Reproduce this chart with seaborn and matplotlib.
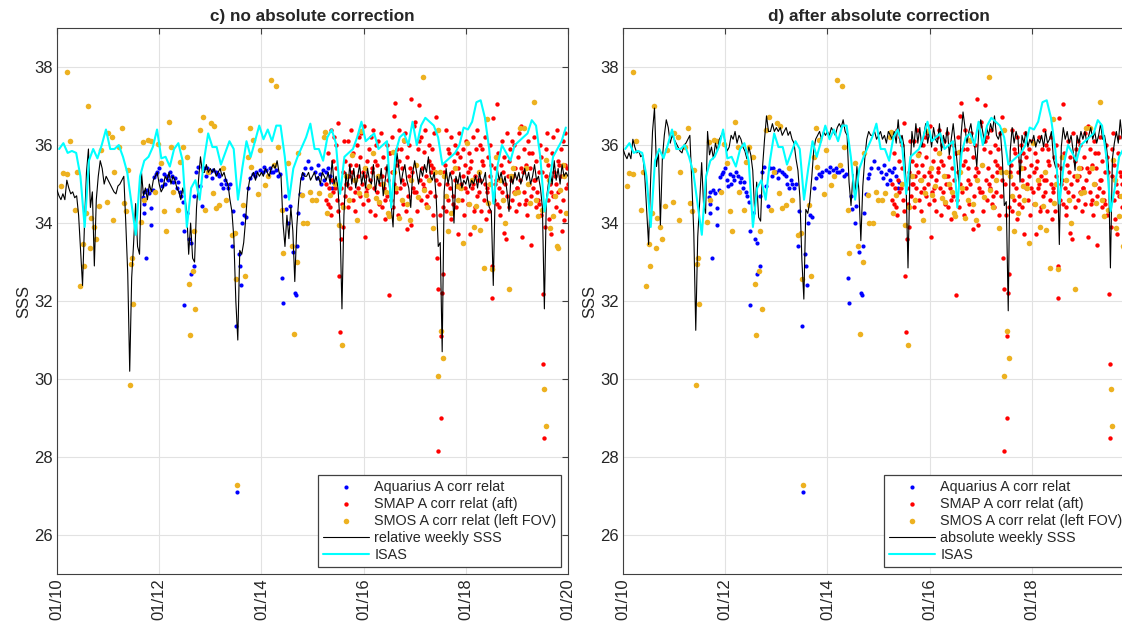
import numpy as np
import pandas as pd
import matplotlib
matplotlib.use('Agg')
import matplotlib.pyplot as plt
import seaborn as sns

# ---- weekly SSS (every 2 weeks, 26 values per year, 2010..2019, + end value) ----
rel_weekly = [
    [34.85, 34.70, 34.60, 34.75, 34.60, 35.10, 34.90, 34.75, 34.80, 34.65, 34.70, 34.20, 33.30, 32.40, 34.00, 35.30, 35.90, 34.40, 34.80, 32.90, 34.60, 35.20, 35.60, 35.40, 35.00, 35.20],
    [35.10, 35.00, 34.90, 34.80, 34.75, 34.95, 35.00, 35.10, 35.20, 34.00, 32.70, 30.20, 32.60, 33.50, 34.50, 33.40, 33.20, 35.30, 34.70, 34.90, 34.60, 35.00, 34.80, 35.10, 35.20, 35.30],
    [35.00, 34.80, 34.90, 35.20, 35.10, 35.30, 35.00, 35.20, 35.10, 34.90, 34.80, 34.60, 34.90, 34.70, 34.30, 33.20, 34.00, 33.10, 33.00, 34.40, 35.10, 35.70, 35.30, 35.30, 35.50, 35.30],
    [35.40, 35.30, 35.40, 35.20, 35.30, 35.40, 35.20, 35.30, 35.10, 35.00, 34.60, 34.30, 33.60, 32.00, 31.00, 33.30, 33.20, 33.50, 34.10, 34.80, 35.10, 35.20, 35.30, 35.10, 35.30, 35.20],
    [35.30, 35.20, 35.40, 35.30, 35.20, 35.40, 35.50, 35.40, 35.60, 35.30, 35.20, 34.00, 33.40, 34.20, 33.60, 34.40, 33.80, 32.50, 33.90, 34.60, 35.10, 35.30, 35.20, 35.20, 35.30, 35.10],
    [35.20, 35.30, 35.10, 35.20, 35.00, 35.30, 35.20, 35.10, 35.30, 35.00, 35.60, 35.00, 35.20, 34.90, 34.00, 31.80, 34.20, 35.30, 34.90, 35.50, 35.00, 35.40, 34.90, 35.20, 35.50, 35.00],
    [35.30, 34.90, 35.40, 35.10, 35.00, 35.50, 34.80, 35.20, 35.00, 35.40, 34.70, 35.10, 35.50, 35.00, 34.50, 33.90, 35.20, 35.80, 35.40, 35.00, 35.30, 35.50, 35.10, 34.90, 34.40, 35.30],
    [35.60, 35.30, 35.00, 35.40, 35.20, 35.50, 35.30, 35.70, 35.20, 35.10, 35.30, 34.60, 33.40, 33.50, 30.70, 34.80, 35.40, 35.00, 35.30, 35.10, 34.00, 35.20, 35.00, 35.30, 34.90, 35.10],
    [35.00, 35.20, 34.90, 35.10, 35.00, 35.20, 34.90, 35.30, 35.00, 35.10, 35.30, 34.60, 34.40, 34.30, 32.40, 34.90, 35.40, 35.10, 35.30, 35.00, 35.20, 34.80, 34.30, 35.20, 35.00, 35.30],
    [35.10, 35.30, 35.00, 35.20, 35.40, 35.10, 35.30, 35.00, 35.20, 35.50, 35.10, 35.20, 34.90, 34.40, 31.80, 34.60, 35.00, 35.30, 35.00, 35.60, 35.10, 35.40, 35.00, 35.50, 35.20, 35.30],
]
rel_end = 35.20

abs_weekly = [
    [35.90, 35.75, 35.65, 35.80, 35.65, 36.15, 35.95, 35.80, 35.85, 35.70, 35.75, 35.25, 34.35, 33.45, 35.05, 36.35, 36.95, 35.45, 35.85, 33.95, 35.65, 36.25, 36.65, 36.45, 36.05, 36.25],
    [36.15, 36.05, 35.95, 35.85, 35.80, 36.00, 36.05, 36.15, 36.25, 35.05, 33.75, 31.25, 33.65, 34.55, 35.55, 34.45, 34.25, 36.35, 35.75, 35.95, 35.65, 36.05, 35.85, 36.15, 36.25, 36.35],
    [36.05, 35.85, 35.95, 36.25, 36.15, 36.35, 36.05, 36.25, 36.15, 35.95, 35.85, 35.65, 35.95, 35.75, 35.35, 34.25, 35.05, 34.15, 34.05, 35.45, 36.15, 36.75, 36.35, 36.35, 36.55, 36.35],
    [36.45, 36.35, 36.45, 36.25, 36.35, 36.45, 36.25, 36.35, 36.15, 36.05, 35.65, 35.35, 34.65, 33.05, 32.05, 34.35, 34.25, 34.55, 35.15, 35.85, 36.15, 36.25, 36.35, 36.15, 36.35, 36.25],
    [36.35, 36.25, 36.45, 36.35, 36.25, 36.45, 36.55, 36.45, 36.65, 36.35, 36.25, 35.05, 34.45, 35.25, 34.65, 35.45, 34.85, 33.55, 34.95, 35.65, 36.15, 36.35, 36.25, 36.25, 36.35, 36.15],
    [36.25, 36.35, 36.15, 36.25, 36.05, 36.35, 36.25, 36.15, 36.35, 36.05, 36.65, 36.05, 36.25, 35.95, 35.05, 32.85, 35.25, 36.35, 35.95, 36.55, 36.05, 36.45, 35.95, 36.25, 36.55, 36.05],
    [36.35, 35.95, 36.45, 36.15, 36.05, 36.55, 35.85, 36.25, 36.05, 36.45, 35.75, 36.15, 36.55, 36.05, 35.55, 34.95, 36.25, 36.85, 36.45, 36.05, 36.35, 36.55, 36.15, 35.95, 35.45, 36.35],
    [36.65, 36.35, 36.05, 36.45, 36.25, 36.55, 36.35, 36.75, 36.25, 36.15, 36.35, 35.65, 34.45, 34.55, 31.75, 35.85, 36.45, 36.05, 36.35, 36.15, 35.05, 36.25, 36.05, 36.35, 35.95, 36.15],
    [36.05, 36.25, 35.95, 36.15, 36.05, 36.25, 35.95, 36.35, 36.05, 36.15, 36.35, 35.65, 35.45, 35.35, 33.45, 35.95, 36.45, 36.15, 36.35, 36.05, 36.25, 35.85, 35.35, 36.25, 36.05, 36.35],
    [36.15, 36.35, 36.05, 36.25, 36.45, 36.15, 36.35, 36.05, 36.25, 36.55, 36.15, 36.25, 35.95, 35.45, 32.85, 35.65, 36.05, 36.35, 36.05, 36.65, 36.15, 36.45, 36.05, 36.55, 36.25, 36.35],
]
abs_end = 36.25

# ---- ISAS monthly ----
isas_monthly = [
    [35.90, 36.05, 35.80, 35.85, 35.80, 35.20, 33.90, 35.60, 35.90, 35.66, 36.00, 36.40],
    [35.90, 35.90, 36.00, 35.70, 35.30, 34.50, 33.70, 35.20, 35.60, 35.70, 35.95, 36.40],
    [35.66, 35.70, 35.45, 35.90, 36.05, 35.60, 33.90, 34.90, 35.10, 34.60, 35.60, 36.30],
    [35.95, 35.95, 35.50, 35.80, 36.10, 35.90, 34.60, 35.40, 36.10, 35.70, 36.10, 36.50],
    [36.15, 36.40, 36.10, 36.50, 36.50, 35.70, 34.60, 35.40, 35.70, 35.95, 36.20, 36.55],
    [35.90, 35.90, 35.60, 36.20, 36.40, 36.05, 34.75, 35.70, 35.80, 35.90, 36.20, 36.60],
    [36.10, 36.20, 36.30, 35.90, 36.00, 36.10, 34.40, 35.80, 36.20, 36.30, 36.00, 36.60],
    [36.00, 36.50, 36.70, 36.60, 36.50, 36.20, 35.50, 35.60, 35.70, 35.80, 36.00, 36.45],
    [36.40, 36.60, 37.10, 37.15, 36.70, 35.90, 34.50, 35.50, 36.00, 35.80, 35.60, 36.00],
    [36.10, 36.20, 36.30, 36.64, 36.50, 35.70, 34.30, 34.90, 35.70, 35.90, 36.10, 36.45],
]

# ---- Aquarius (decimal year, SSS) ----
aq_t = [2011.68, 2011.70, 2011.70, 2011.71, 2011.75, 2011.77, 2011.80, 2011.83, 2011.84, 2011.87,
        2011.90, 2011.93, 2011.96, 2012.00, 2012.03, 2012.06, 2012.09, 2012.12, 2012.15, 2012.18,
        2012.22, 2012.25, 2012.28, 2012.31, 2012.34, 2012.37, 2012.40, 2012.43, 2012.46, 2012.49,
        2012.49, 2012.55, 2012.59, 2012.62, 2012.63, 2012.68, 2012.69, 2012.72, 2012.75, 2012.80,
        2012.83, 2012.88, 2012.94, 2013.00, 2013.06, 2013.12, 2013.18, 2013.21, 2013.25, 2013.28,
        2013.31, 2013.35, 2013.38, 2013.43, 2013.45, 2013.51, 2013.53, 2013.57, 2013.58, 2013.60,
        2013.62, 2013.66, 2013.70, 2013.74, 2013.77, 2013.84, 2013.90, 2013.97, 2014.03, 2014.10,
        2014.16, 2014.23, 2014.29, 2014.36, 2014.41, 2014.43, 2014.46, 2014.49, 2014.53, 2014.56,
        2014.62, 2014.66, 2014.68, 2014.69, 2014.72, 2014.76, 2014.79, 2014.82, 2014.85, 2014.92,
        2014.98, 2015.04, 2015.08, 2015.11, 2015.14, 2015.17, 2015.20, 2015.23, 2015.26, 2015.30,
        2015.34, 2015.38, 2015.41, 2012.91, 2013.03, 2013.15, 2013.88, 2014.06, 2014.19, 2014.33]
aq_v = [34.68, 34.80, 34.50, 34.27, 33.10, 34.85, 34.77, 33.96, 34.38, 34.85,
        35.19, 35.25, 35.30, 35.40, 35.10, 34.95, 35.25, 35.00, 35.20, 35.10,
        35.30, 35.20, 35.05, 35.15, 34.90, 35.05, 34.80, 34.70, 34.55, 33.80,
        31.90, 34.26, 33.60, 33.50, 32.70, 32.90, 34.70, 35.30, 35.45, 34.95,
        34.45, 35.40, 35.40, 35.30, 35.35, 35.30, 35.20, 35.00, 34.90, 35.10,
        35.00, 34.90, 35.00, 33.40, 34.30, 31.35, 27.10, 33.20, 32.90, 32.40,
        34.00, 34.20, 34.15, 34.90, 35.15, 35.25, 35.30, 35.35, 35.30, 35.35,
        35.40, 35.30, 35.35, 35.25, 32.60, 31.95, 34.70, 34.35, 34.00, 34.45,
        33.25, 32.20, 32.15, 33.40, 34.25, 34.75, 35.15, 35.25, 35.40, 35.60,
        35.40, 35.30, 35.15, 35.50, 35.25, 35.00, 35.35, 35.10, 35.30, 35.40,
        35.20, 34.90, 35.05, 35.20, 35.15, 35.25, 35.20, 35.45, 35.30, 35.20]

# ---- SMAP: 6 values per month, Apr 2015 .. Dec 2019 ----
smap_monthly = [
    [35.00, 34.60, 34.25, 35.80, 34.50, 34.90], [34.40, 36.40, 34.20, 35.10, 34.80, 35.60], [36.20, 34.90, 35.40, 36.00, 34.60, 34.30],
    [36.57, 32.65, 31.20, 33.60, 34.90, 34.50], [35.30, 33.90, 36.10, 34.70, 35.60, 35.00], [35.00, 36.10, 34.40, 35.20, 34.90, 35.50],
    [36.40, 35.30, 34.60, 35.80, 35.10, 34.80], [34.30, 35.50, 36.00, 34.90, 35.20, 36.20], [35.70, 34.70, 36.30, 35.00, 34.50, 35.30],
    [36.50, 33.65, 35.20, 34.80, 35.60, 34.90], [34.60, 35.90, 35.10, 34.30, 36.20, 35.40], [35.30, 36.40, 34.90, 35.60, 34.20, 36.00],
    [34.80, 35.50, 36.10, 34.50, 35.00, 35.20], [36.30, 35.20, 34.40, 35.70, 34.90, 34.60], [34.10, 35.40, 36.00, 34.70, 35.10, 35.80],
    [32.15, 35.80, 34.60, 36.20, 35.30, 34.40], [35.00, 36.75, 37.08, 34.80, 35.50, 35.90], [34.20, 36.40, 35.60, 34.90, 35.90, 35.10],
    [35.40, 34.50, 36.10, 35.00, 36.30, 34.30], [33.85, 35.70, 34.70, 36.00, 35.20, 35.40], [37.17, 33.95, 35.30, 34.90, 36.50, 34.80],
    [36.60, 34.80, 35.50, 34.30, 35.90, 36.10], [37.03, 35.10, 34.60, 36.20, 35.40, 35.00], [35.83, 34.90, 36.40, 35.20, 34.50, 34.70],
    [34.40, 35.60, 36.00, 34.80, 35.30, 35.50], [35.90, 34.20, 35.40, 36.30, 34.70, 35.10], [36.72, 33.10, 28.15, 32.30, 35.00, 34.20],
    [29.00, 31.10, 32.20, 32.70, 34.40, 35.30], [35.50, 34.30, 36.40, 35.00, 34.60, 35.90], [35.80, 34.90, 36.20, 34.10, 35.30, 34.50],
    [34.70, 35.60, 36.00, 35.10, 34.40, 35.80], [35.40, 33.73, 36.30, 34.90, 35.70, 35.00], [34.60, 35.20, 35.90, 34.20, 35.50, 34.90],
    [36.10, 34.80, 35.30, 34.50, 35.80, 35.40], [33.73, 35.60, 34.90, 36.20, 35.00, 34.30], [35.20, 34.40, 35.90, 34.70, 36.40, 35.10],
    [34.80, 36.00, 35.10, 34.30, 35.60, 35.90], [35.50, 34.60, 36.20, 35.00, 34.10, 34.80], [34.90, 35.70, 34.30, 35.20, 36.00, 35.50],
    [32.07, 32.90, 36.70, 34.60, 35.40, 35.00], [35.10, 37.05, 34.50, 35.80, 34.90, 34.40], [34.20, 35.50, 36.10, 34.80, 35.30, 35.70],
    [33.75, 35.00, 33.60, 36.30, 34.70, 35.20], [35.60, 34.40, 35.90, 35.10, 34.60, 36.10], [35.20, 36.00, 34.80, 35.40, 34.30, 34.90],
    [34.90, 35.70, 36.30, 34.50, 35.10, 35.40], [36.50, 33.65, 35.30, 34.80, 35.90, 34.50], [34.60, 35.50, 34.20, 36.10, 35.00, 35.80],
    [35.40, 34.70, 33.45, 35.80, 34.90, 35.10], [36.20, 35.10, 34.40, 35.60, 34.80, 34.60], [34.50, 35.30, 36.00, 34.20, 35.70, 35.30],
    [32.18, 30.38, 28.50, 33.90, 35.20, 35.90], [36.30, 34.60, 35.50, 34.10, 35.00, 34.80], [33.73, 35.80, 34.70, 36.20, 35.30, 35.20],
    [35.00, 34.40, 36.40, 35.60, 34.80, 35.50], [34.30, 35.90, 35.20, 33.80, 36.10, 34.60], [34.07, 35.50, 36.30, 34.90, 35.40, 35.00],
]

# ---- SMOS (decimal year, SSS) ----
smos_t = [2010.085, 2010.125, 2010.19, 2010.20, 2010.26, 2010.35, 2010.40, 2010.45, 2010.50, 2010.52,
          2010.56, 2010.61, 2010.65, 2010.67, 2010.72, 2010.76, 2010.83, 2010.86, 2010.97, 2010.99,
          2011.07, 2011.09, 2011.12, 2011.22, 2011.27, 2011.32, 2011.35, 2011.38, 2011.43, 2011.45,
          2011.47, 2011.49, 2011.65, 2011.68, 2011.71, 2011.78, 2011.84, 2011.91, 2011.97, 2012.03,
          2012.09, 2012.14, 2012.20, 2012.24, 2012.27, 2012.37, 2012.40, 2012.47, 2012.54, 2012.59,
          2012.60, 2012.66, 2012.69, 2012.71, 2012.80, 2012.85, 2012.90, 2012.95, 2013.01, 2013.05,
          2013.08, 2013.12, 2013.18, 2013.25, 2013.31, 2013.43, 2013.48, 2013.51, 2013.52, 2013.64,
          2013.67, 2013.74, 2013.77, 2013.80, 2013.84, 2013.94, 2013.98, 2014.07, 2014.13, 2014.18,
          2014.25, 2014.28, 2014.33, 2014.40, 2014.43, 2014.53, 2014.60, 2014.64, 2014.69, 2014.72,
          2014.79, 2014.82, 2014.89, 2014.95, 2014.99, 2015.06, 2015.12, 2015.22, 2015.25, 2015.29,
          2015.35, 2015.45, 2015.52, 2015.57, 2015.65, 2015.72, 2015.78, 2015.88, 2015.91, 2015.95,
          2016.05, 2016.11, 2016.18, 2016.24, 2016.31, 2016.38, 2016.47, 2016.50, 2016.57, 2016.64,
          2016.70, 2016.76, 2016.80, 2016.90, 2016.93, 2017.06, 2017.16, 2017.19, 2017.29, 2017.36,
          2017.40, 2017.45, 2017.46, 2017.49, 2017.51, 2017.55, 2017.58, 2017.66, 2017.72, 2017.82,
          2017.85, 2017.95, 2018.02, 2018.12, 2018.17, 2018.21, 2018.28, 2018.35, 2018.41, 2018.44,
          2018.52, 2018.60, 2018.67, 2018.77, 2018.84, 2018.92, 2018.97, 2019.07, 2019.13, 2019.18,
          2019.26, 2019.34, 2019.42, 2019.49, 2019.54, 2019.57, 2019.58, 2019.65, 2019.71, 2019.78,
          2019.80, 2019.84, 2019.90, 2019.97, 2015.60, 2015.84, 2016.02, 2016.28, 2016.43, 2016.60,
          2016.85, 2017.02, 2017.25, 2017.62, 2017.78, 2017.90, 2018.06, 2018.25, 2018.48, 2018.72,
          2018.88, 2019.02, 2019.22, 2019.38, 2019.62, 2019.75, 2019.93]
smos_v = [34.94, 35.28, 35.25, 37.87, 36.10, 34.34, 35.32, 32.38, 33.47, 32.90,
          34.27, 37.00, 33.36, 34.13, 33.90, 33.58, 34.45, 35.87, 34.54, 36.30,
          36.20, 34.08, 35.30, 35.94, 36.43, 34.51, 34.30, 35.36, 29.85, 32.94,
          33.10, 31.92, 34.04, 36.09, 34.60, 36.13, 36.10, 34.80, 36.04, 35.55,
          34.30, 33.80, 36.60, 35.96, 34.80, 34.34, 35.57, 35.96, 35.70, 32.43,
          31.12, 32.77, 33.80, 31.80, 36.40, 36.72, 34.34, 35.30, 36.57, 34.77,
          36.49, 34.38, 34.47, 35.40, 34.60, 33.70, 33.74, 32.57, 27.28, 34.47,
          32.64, 35.70, 36.45, 35.45, 36.13, 34.75, 35.87, 34.98, 35.20, 37.66,
          35.50, 37.51, 35.96, 34.34, 33.23, 35.53, 33.40, 31.15, 33.00, 35.79,
          34.72, 34.00, 34.00, 34.80, 34.60, 34.60, 34.77, 36.20, 36.34, 34.26,
          34.72, 35.00, 33.96, 30.87, 35.20, 34.60, 35.74, 34.08, 34.77, 36.37,
          34.72, 34.94, 35.79, 34.64, 34.55, 35.00, 34.26, 34.17, 35.83, 34.90,
          34.13, 34.60, 36.13, 34.09, 35.10, 34.68, 37.74, 34.85, 35.10, 33.87,
          35.30, 30.08, 36.38, 35.32, 31.23, 30.55, 35.20, 33.80, 34.26, 34.94,
          34.60, 33.49, 36.06, 35.10, 33.90, 34.43, 33.83, 32.85, 36.68, 34.51,
          32.83, 35.70, 35.10, 34.00, 32.30, 35.40, 34.77, 36.43, 36.43, 35.40,
          34.51, 37.10, 34.17, 34.34, 29.75, 28.80, 35.62, 33.87, 34.17, 33.40,
          33.36, 34.85, 35.50, 34.26, 34.40, 35.10, 35.40, 35.20, 34.80, 35.30,
          34.50, 35.50, 34.40, 34.70, 35.40, 34.90, 34.50, 35.30, 35.00, 34.60,
          35.20, 34.80, 35.00, 34.60, 35.10, 34.70, 35.20]

tick_years = [2010, 2012, 2014, 2016, 2018, 2020]
tick_labels = ['01/10', '01/12', '01/14', '01/16', '01/18', '01/20']


def weekly_series(rows, end_val):
    t, v = [], []
    for k, row in enumerate(rows):
        for i, val in enumerate(row):
            t.append(2010 + k + i / 26)
            v.append(val)
    t.append(2020.0)
    v.append(end_val)
    return np.array(t), np.array(v)


def monthly_series(rows):
    t, v = [], []
    for k, row in enumerate(rows):
        for m, val in enumerate(row):
            t.append(2010 + k + (m + 0.5) / 12)
            v.append(val)
    return np.array(t), np.array(v)


def smap_series(rows):
    t, v = [], []
    for k, row in enumerate(rows):
        for j, val in enumerate(row):
            t.append(2015 + (3 + k + (j + 0.5) / len(row)) / 12)
            v.append(val)
    return np.array(t), np.array(v)


rel_t, rel_v = weekly_series(rel_weekly, rel_end)
abs_t, abs_v = weekly_series(abs_weekly, abs_end)
isas_t, isas_v = monthly_series(isas_monthly)
smap_t, smap_v = smap_series(smap_monthly)

sns.set_style('white')
plt.rcParams['font.family'] = ['Liberation Sans', 'DejaVu Sans']

fig = plt.figure(figsize=(11.22, 6.21), dpi=100)
ax1 = fig.add_axes([0.0508, 0.0757, 0.4554, 0.879])
ax2 = fig.add_axes([0.5553, 0.0757, 0.4554, 0.879])


def draw_panel(ax, wt, wv, wlabel, title, nticks):
    sns.scatterplot(x=aq_t, y=aq_v, ax=ax, color='#0000ff', s=9, linewidth=0,
                    label='Aquarius A corr relat', zorder=2)
    sns.scatterplot(x=smap_t, y=smap_v, ax=ax, color='#ff0000', s=10, linewidth=0,
                    label='SMAP A corr relat (aft)', zorder=2)
    sns.scatterplot(x=smos_t, y=smos_v, ax=ax, color='#edb120', s=16, linewidth=0,
                    label='SMOS A corr relat (left FOV)', zorder=2)
    sns.lineplot(x=wt, y=wv, ax=ax, color='black', linewidth=0.8, estimator=None,
                 label=wlabel, zorder=3)
    sns.lineplot(x=isas_t, y=isas_v, ax=ax, color='#00ffff', linewidth=1.5, estimator=None,
                 label='ISAS', zorder=4)
    ax.set_xlim(2010, 2020)
    ax.set_ylim(25, 39)
    ax.set_xticks(tick_years[:nticks])
    ax.set_xticklabels(tick_labels[:nticks], rotation=90)
    ax.set_yticks(range(26, 39, 2))
    ax.grid(True, color='#e2e2e2', linewidth=0.8)
    ax.set_axisbelow(True)
    ax.tick_params(direction='in', top=True, right=True, length=4, width=0.8,
                   labelsize=12, color='#404040', labelcolor='#262626', pad=3)
    for sp in ax.spines.values():
        sp.set_color('#404040')
        sp.set_linewidth(0.8)
    ax.set_xlabel('')
    ax.set_ylabel('SSS', fontsize=12, color='#262626', labelpad=2)
    ax.set_title(title, fontsize=12.3, fontweight='bold', pad=5)
    leg = ax.legend(loc='lower right', fontsize=10.4, frameon=True, fancybox=False,
                    framealpha=1, edgecolor='#404040', labelspacing=0.22,
                    handlelength=3.2, handletextpad=0.35, borderpad=0.35,
                    borderaxespad=0.45)
    leg.get_frame().set_linewidth(0.9)


draw_panel(ax1, rel_t, rel_v, 'relative weekly SSS', 'c) no absolute correction', 6)
# the right panel runs past the picture edge, so its 01/20 label is not shown
draw_panel(ax2, abs_t, abs_v, 'absolute weekly SSS', 'd) after absolute correction', 5)

fig.savefig('out.png', dpi=100)
